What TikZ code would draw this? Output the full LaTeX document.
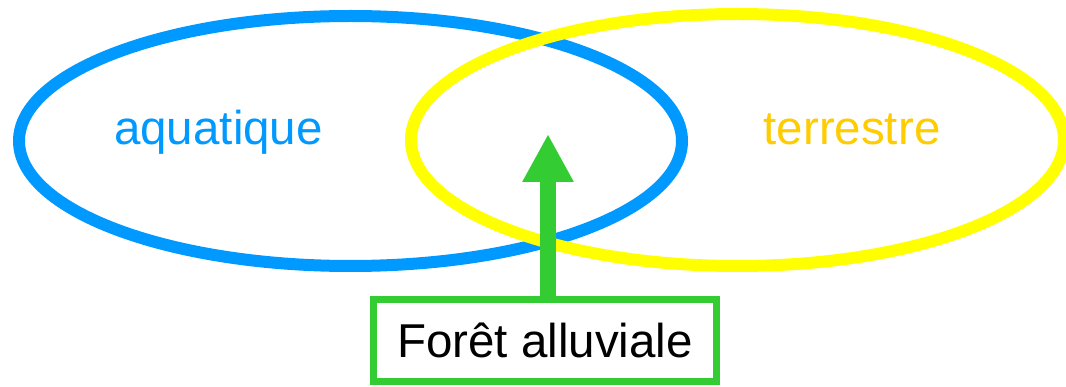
\documentclass[tikz,border=0pt]{standalone}
\usepackage{fontspec}
\setmainfont{Liberation Sans}
\usetikzlibrary{arrows.meta}
\definecolor{aquablue}{HTML}{0099FF}
\definecolor{terreyellow}{HTML}{FFFF00}
\definecolor{terreorange}{HTML}{FFCC00}
\definecolor{forestgreen}{HTML}{33CC33}
\tikzset{
  setring/.style={line width=12pt},
  label/.style={font=\fontsize{47.5}{56}\selectfont, inner sep=0pt, anchor=base},
  forestbox/.style={draw=forestgreen, line width=7pt, fill=white,
    minimum width=343pt, minimum height=82pt, inner sep=0pt,
    font=\fontsize{47.5}{56}\selectfont},
  linkarrow/.style={draw=forestgreen, line width=16pt,
    -{Triangle[length=48pt,width=48pt,fill=forestgreen]}}
}
\begin{document}
\begin{tikzpicture}[x=1pt,y=-1pt]
  \useasboundingbox (0,0) rectangle (1066,387);
  % the two overlapping domains
  \draw[setring, aquablue] (350.5,141) ellipse [x radius=331.5, y radius=125];
  \draw[setring, terreyellow] (737.5,140) ellipse [x radius=326.5, y radius=126];
  \node[label, text=aquablue] (aqua) at (218.5,145) {aquatique};
  \node[label, text=terreorange] (terre) at (852,145) {terrestre};
  % the transition zone and its pointer
  \node[forestbox] (foret) at (545,340.5) {Forêt alluviale};
  \coordinate (tip) at (548,134);
  \draw[linkarrow] (tip |- foret.north) -- (tip);
\end{tikzpicture}
\end{document}
